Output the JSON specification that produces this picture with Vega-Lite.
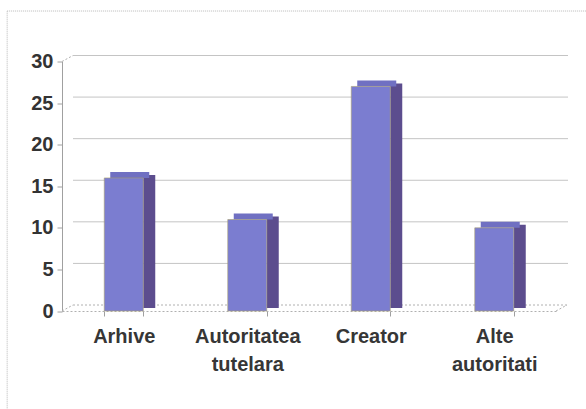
{
  "$schema": "https://vega.github.io/schema/vega-lite/v6.json",
  "autosize": {"type": "none"},
  "width": 494,
  "height": 249.5,
  "padding": {"left": 62, "top": 61.5, "right": 30, "bottom": 98},
  "background": "white",
  "config": {
    "view": {"stroke": null},
    "font": "Liberation Sans"
  },
  "datasets": {
    "bars": [
      {"cat": "Arhive", "value": 16},
      {"cat": "Autoritatea tutelara", "value": 11},
      {"cat": "Creator", "value": 27},
      {"cat": "Alte autoritati", "value": 10}
    ],
    "grid": [
      {"v": 5}, {"v": 10}, {"v": 15}, {"v": 20}, {"v": 25}, {"v": 30}
    ],
    "edges": [
      {"x": 0, "y": 30},
      {"x": 0, "y": 0},
      {"x": 1, "y": 0}
    ]
  },
  "resolve": {"scale": {"x": "independent"}, "axis": {"x": "independent"}},
  "layer": [
    {
      "data": {"values": [{"a": 1}]},
      "mark": {"type": "rect", "fill": null, "filled": false, "stroke": "#b8b8b8", "strokeWidth": 1, "strokeDash": [1, 1]},
      "encoding": {
        "x": {"datum": -0.111, "type": "quantitative", "scale": {"domain": [0, 1]}, "axis": null},
        "x2": {"datum": 1.3},
        "y": {"datum": 36.07, "type": "quantitative"},
        "y2": {"datum": -20}
      }
    },
    {
      "data": {"name": "grid"},
      "mark": {"type": "rule", "color": "#c4c4c4", "strokeWidth": 1, "xOffset": 11, "x2Offset": 12, "yOffset": -6, "y2Offset": -6},
      "encoding": {
        "x": {"datum": 0, "type": "quantitative", "scale": {"domain": [0, 1]}, "axis": null},
        "x2": {"datum": 1},
        "y": {"field": "v", "type": "quantitative",
          "scale": {"domain": [0, 30], "nice": false},
          "axis": {
            "values": [0, 5, 10, 15, 20, 25, 30],
            "grid": false,
            "domainColor": "#a0a0a0",
            "tickColor": "#a0a0a0",
            "tickSize": 5,
            "labelPadding": 4,
            "labelFont": "Liberation Sans",
            "labelFontSize": 20,
            "labelFontWeight": "bold",
            "labelColor": "#333333",
            "title": null
          }
        }
      }
    },
    {
      "data": {"values": [{"v": 0}]},
      "mark": {"type": "rule", "color": "#b0b0b0", "strokeWidth": 1, "strokeDash": [2, 2], "xOffset": 11, "x2Offset": 12, "yOffset": -6, "y2Offset": -6},
      "encoding": {
        "x": {"datum": 0, "type": "quantitative", "scale": {"domain": [0, 1]}, "axis": null},
        "x2": {"datum": 1},
        "y": {"field": "v", "type": "quantitative"}
      }
    },
    {
      "data": {"name": "edges"},
      "mark": {"type": "rule", "color": "#b0b0b0", "strokeWidth": 1, "strokeDash": [2, 2], "x2Offset": 11, "y2Offset": -6},
      "encoding": {
        "x": {"field": "x", "type": "quantitative", "scale": {"domain": [0, 1]}, "axis": null},
        "x2": {"field": "x"},
        "y": {"field": "y", "type": "quantitative"},
        "y2": {"field": "y"}
      }
    },
    {
      "data": {"name": "bars"},
      "layer": [
        {
          "mark": {"type": "bar", "color": "#5c4d8e", "opacity": 1, "width": 12, "xOffset": 25.5, "yOffset": -3, "y2Offset": -3},
          "encoding": {
            "y": {"field": "value", "type": "quantitative"},
            "y2": {"datum": 0}
          }
        },
        {
          "mark": {"type": "tick", "color": "#7070c2", "opacity": 1, "thickness": 6, "size": 39, "xOffset": 6, "yOffset": -3, "orient": "horizontal"},
          "encoding": {
            "y": {"field": "value", "type": "quantitative"}
          }
        },
        {
          "mark": {"type": "bar", "color": "#7b7dd0", "opacity": 1, "width": 39, "stroke": "#a8a070", "strokeWidth": 0.6},
          "encoding": {
            "y": {"field": "value", "type": "quantitative"},
            "y2": {"datum": 0}
          }
        }
      ],
      "encoding": {
        "x": {
          "field": "cat", "type": "nominal", "sort": null,
          "scale": {"paddingInner": 0.684, "paddingOuter": 0.342},
          "axis": {
            "title": null,
            "labelAngle": 0,
            "labelExpr": "split(datum.label, ' ')",
            "labelFont": "Liberation Sans",
            "labelFontSize": 20,
            "labelFontWeight": "bold",
            "labelColor": "#363636",
            "labelLineHeight": 28,
            "labelPadding": 10,
            "tickBand": "extent",
            "tickSize": 5,
            "tickColor": "#a0a0a0",
            "domainColor": "#b0b0b0",
            "domainDash": [2, 2]
          }
        }
      }
    }
  ]
}
